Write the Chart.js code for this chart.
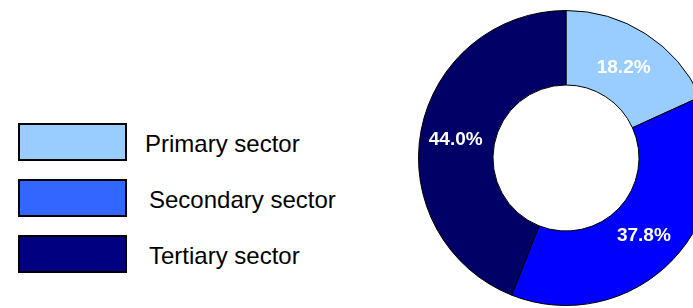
<!DOCTYPE html>
<html>
<head>
<meta charset="utf-8">
<script src="https://cdn.jsdelivr.net/npm/chart.js@4.4.0/dist/chart.umd.min.js"></script>
<style>
  html, body { margin: 0; padding: 0; width: 693px; height: 308px; overflow: hidden; background: #fff; }
  #wrap { position: absolute; left: 418px; top: 9px; width: 296px; height: 298px; }
  .item { position: absolute; left: 18px; height: 38px; display: flex; align-items: center; }
  .box { width: 105px; height: 34px; border: 2px solid #000; box-sizing: content-box; }
  .txt { font-family: "Liberation Sans", Arial, sans-serif; font-size: 24px; color: #000; padding-top: 4px; white-space: nowrap; }
</style>
</head>
<body>
<div id="legend"></div>
<div id="wrap"><canvas id="myChart" width="296" height="298"></canvas></div>
<script>
const sectores = ['Primary sector', 'Secondary sector', 'Tertiary sector'];
const porcentajes = [18.2, 37.8, 44.0];
const coloresAnillo = ['#99CCFF', '#0000FF', '#000066'];
const coloresLeyenda = ['#99CCFF', '#3366FF', '#000080'];

// leyenda a mano, a la izquierda
let leyenda = document.getElementById('legend');
sectores.forEach((nombre, i) => {
    let item = document.createElement('div');
    item.className = 'item';
    item.style.top = (123 + i * 56) + 'px';
    let caja = document.createElement('div');
    caja.className = 'box';
    caja.style.background = coloresLeyenda[i];
    let txt = document.createElement('div');
    txt.className = 'txt';
    txt.style.marginLeft = (i === 0 ? 18 : 22) + 'px';
    txt.textContent = nombre;
    item.appendChild(caja);
    item.appendChild(txt);
    leyenda.appendChild(item);
});

// etiquetas de porcentaje dentro de cada segmento
const etiquetas = {
    id: 'etiquetas',
    afterDatasetsDraw(chart) {
        let c = chart.ctx;
        let meta = chart.getDatasetMeta(0);
        c.save();
        c.fillStyle = '#fff';
        c.font = 'bold 19px "Liberation Sans", Arial, sans-serif';
        c.textAlign = 'center';
        c.textBaseline = 'middle';
        meta.data.forEach((arco, i) => {
            let p = arco.tooltipPosition();
            c.fillText(porcentajes[i].toFixed(1) + '%', p.x - 2, p.y + 2);
        });
        c.restore();
    }
};

const ctx = document.getElementById('myChart');
let chart = new Chart(ctx, {
    type: 'doughnut',
    data: {
        labels: sectores,
        datasets: [{
            data: porcentajes,
            backgroundColor: coloresAnillo,
            borderColor: '#000',
            borderWidth: 1
        }]
    },
    options: {
        responsive: false,
        animation: false,
        cutout: '49.5%',
        plugins: {
            legend: { display: false },
            tooltip: { enabled: false }
        }
    },
    plugins: [etiquetas]
});
</script>
</body>
</html>
